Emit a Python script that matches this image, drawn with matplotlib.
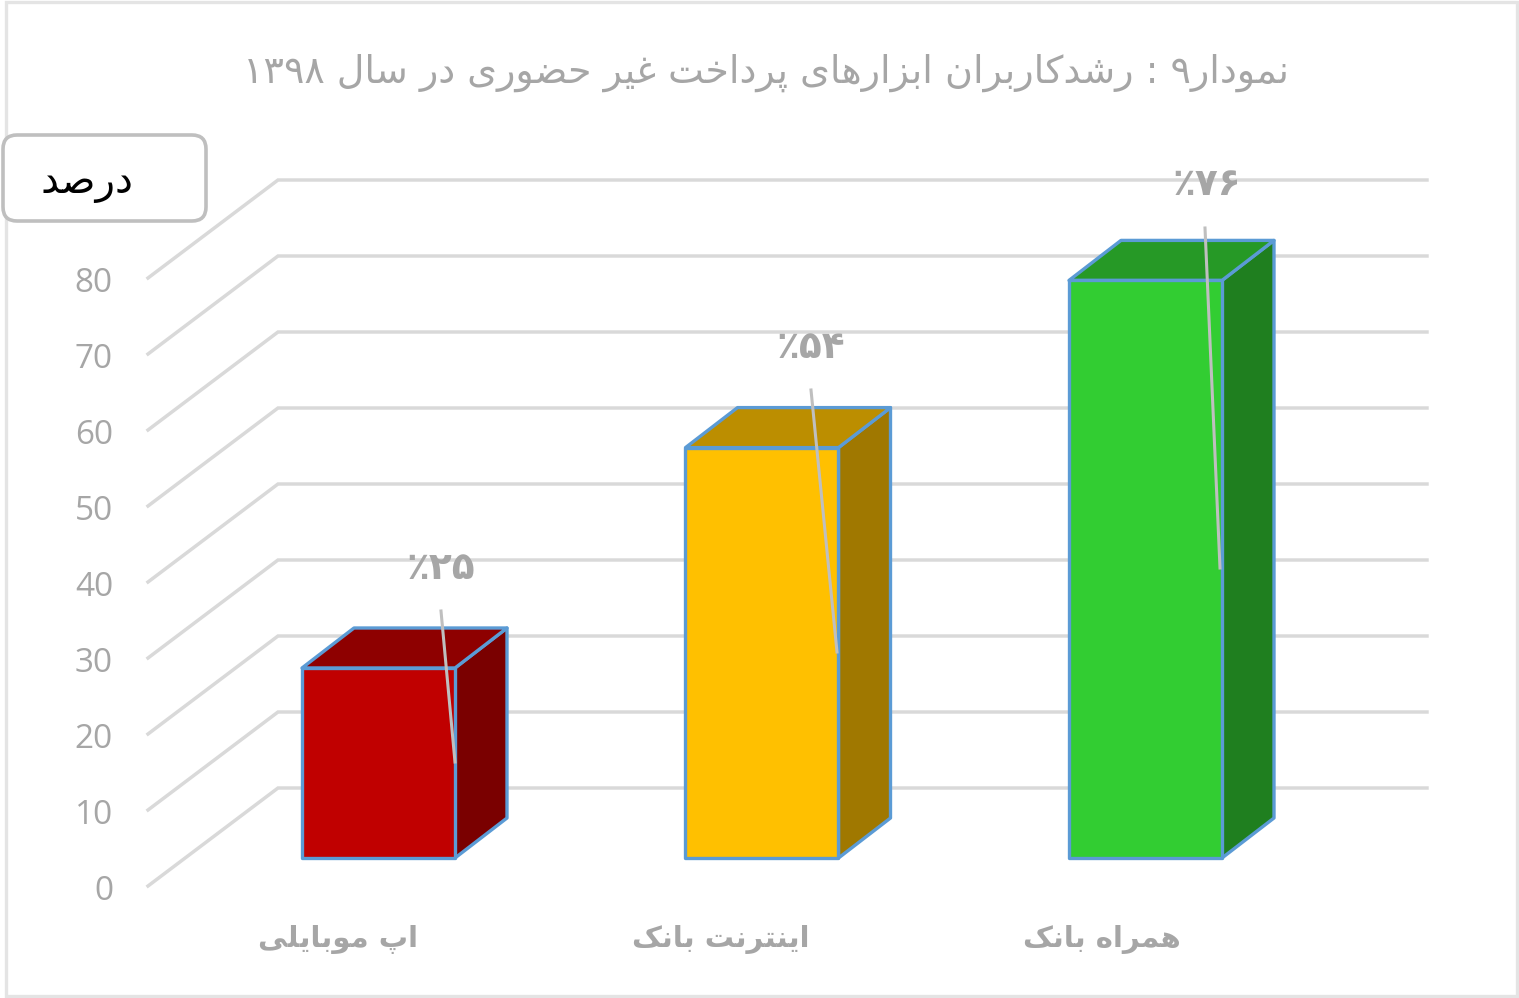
import matplotlib
matplotlib.use("Agg")
import matplotlib.pyplot as plt
from matplotlib.patches import FancyBboxPatch, Polygon, Rectangle

# data
categories = ["اپ موبایلی", "اینترنت بانک", "همراه بانک"]
values = [25, 54, 76]
value_labels = ["۲۵٪", "۵۴٪", "۷۶٪"]
ticks = [0, 10, 20, 30, 40, 50, 60, 70, 80]
title = "نمودار۹ : رشدکاربران ابزارهای پرداخت غیر حضوری در سال ۱۳۹۸"
unit_label = "درصد"
front_colors = ["#C00000", "#FFC000", "#32CD32"]
top_colors = ["#8E0000", "#BC8E00", "#269926"]
side_colors = ["#7A0000", "#A07800", "#1F7F1F"]

# matplotlib has no arabic shaping, so map letters to their presentation forms
FORMS = {
    "ا": (0xFE8D, 0xFE8E), "د": (0xFEA9, 0xFEAA), "ر": (0xFEAD, 0xFEAE),
    "ز": (0xFEAF, 0xFEB0), "و": (0xFEED, 0xFEEE),
    "ب": (0xFE8F, 0xFE90, 0xFE91, 0xFE92), "پ": (0xFB56, 0xFB57, 0xFB58, 0xFB59),
    "ت": (0xFE95, 0xFE96, 0xFE97, 0xFE98), "ح": (0xFEA1, 0xFEA2, 0xFEA3, 0xFEA4),
    "خ": (0xFEA5, 0xFEA6, 0xFEA7, 0xFEA8), "س": (0xFEB1, 0xFEB2, 0xFEB3, 0xFEB4),
    "ش": (0xFEB5, 0xFEB6, 0xFEB7, 0xFEB8), "ص": (0xFEB9, 0xFEBA, 0xFEBB, 0xFEBC),
    "ض": (0xFEBD, 0xFEBE, 0xFEBF, 0xFEC0), "غ": (0xFECD, 0xFECE, 0xFECF, 0xFED0),
    "ک": (0xFB8E, 0xFB8F, 0xFB90, 0xFB91), "ل": (0xFEDD, 0xFEDE, 0xFEDF, 0xFEE0),
    "م": (0xFEE1, 0xFEE2, 0xFEE3, 0xFEE4), "ن": (0xFEE5, 0xFEE6, 0xFEE7, 0xFEE8),
    "ه": (0xFEE9, 0xFEEA, 0xFEEB, 0xFEEC), "ی": (0xFBFC, 0xFBFD, 0xFBFE, 0xFBFF),
}
DIGITS = "۰۱۲۳۴۵۶۷۸۹"


def shape(text):
    out = []
    for i, ch in enumerate(text):
        if ch not in FORMS:
            out.append(ch)
            continue
        prev = text[i - 1] if i > 0 else " "
        nxt = text[i + 1] if i < len(text) - 1 else " "
        joins_prev = prev in FORMS and len(FORMS[prev]) == 4
        joins_next = nxt in FORMS and len(FORMS[ch]) == 4
        f = FORMS[ch]
        if joins_prev and joins_next:
            out.append(chr(f[3]))
        elif joins_next:
            out.append(chr(f[2]))
        elif joins_prev:
            out.append(chr(f[1]))
        else:
            out.append(chr(f[0]))
    # reverse for display, digit runs keep their order
    res = []
    run = ""
    for ch in reversed(out):
        if ch in DIGITS:
            run = ch + run
        else:
            res.append(run)
            run = ""
            res.append(ch)
    res.append(run)
    return "".join(res)


W, H = 1519, 998
grey = "#A6A6A6"
grid_c = "#D9D9D9"
edge_c = "#5B9BD5"

fig = plt.figure(figsize=(W / 100, H / 100), dpi=100)
ax = fig.add_axes([0, 0, 1, 1])

# 1 category = 383.5 px, 1 percent = 7.6 px
xu = 383.5
yu = 7.6
ax.set_xlim(-378.5 / xu, (W - 378.5) / xu)
ax.set_ylim(-(H - 858) / yu, 858 / yu)
ax.axis("off")


def px(x):
    return (x - 378.5) / xu


def py(y):
    return (858 - y) / yu


# outer frame
ax.add_patch(Rectangle((px(5.5), py(996)), 1511.5 / xu, 994 / yu, fc="white", ec="#E4E4E4", lw=2.4, zorder=0))

# back wall and side wall grid
for t in ticks:
    ax.plot([px(148), px(278), px(1427)], [py(886) + t, py(788) + t, py(788) + t],
            color=grid_c, lw=2.5, zorder=1, solid_joinstyle="miter")
    ax.text(px(113), py(891) + t, str(t), color=grey, fontsize=24, family="Open Sans",
            ha="right", va="center", zorder=2)

# bars
half = 76.5 / xu
dx = 52 / xu
dy = 40 / yu
for i, v in enumerate(values):
    front = [(i - half, 0), (i + half, 0), (i + half, v), (i - half, v)]
    top = [(i - half, v), (i + half, v), (i + half + dx, v + dy), (i - half + dx, v + dy)]
    side = [(i + half, 0), (i + half + dx, dy), (i + half + dx, v + dy), (i + half, v)]
    for pts, c in ((side, side_colors[i]), (top, top_colors[i]), (front, front_colors[i])):
        ax.add_patch(Polygon(pts, closed=True, fc=c, ec=edge_c, lw=2.4, joinstyle="round", zorder=3))

# value labels with their leader lines
label_x = [441, 811, 1207]
label_y = [569, 348, 185]
leader_start = [(441, 611), (811, 390), (1205, 228)]
leader_end = [(455, 762), (837, 652), (1220, 568)]
for i, lab in enumerate(value_labels):
    ax.plot([px(leader_start[i][0]), px(leader_end[i][0])],
            [py(leader_start[i][1]), py(leader_end[i][1])],
            color="#BFBFBF", lw=2.2, zorder=4)
    ax.text(px(label_x[i]), py(label_y[i]), shape(lab), color=grey, fontsize=27, weight="bold",
            family="DejaVu Sans", ha="center", va="center", zorder=5)

# category labels
cat_x = [338, 721, 1102]
for i, c in enumerate(categories):
    ax.text(px(cat_x[i]), py(940), shape(c), color=grey, fontsize=21, weight="bold",
            family="DejaVu Sans", ha="center", va="center", zorder=5)

ax.text(px(766), py(73), shape(title), color=grey, fontsize=27.4, family="DejaVu Sans",
        ha="center", va="center", zorder=5)

# unit box
box = FancyBboxPatch((3 + 14, H - 221 + 14), 203 - 28, 86 - 28, boxstyle="round,pad=14,rounding_size=14",
                     fc="white", ec="#BFBFBF", lw=2.6, transform=None, zorder=7)
ax.add_patch(box)
ax.text(px(87), py(183), shape(unit_label), color="black", fontsize=29, family="DejaVu Sans",
        ha="center", va="center", zorder=8)

fig.savefig("out.png", dpi=100)
